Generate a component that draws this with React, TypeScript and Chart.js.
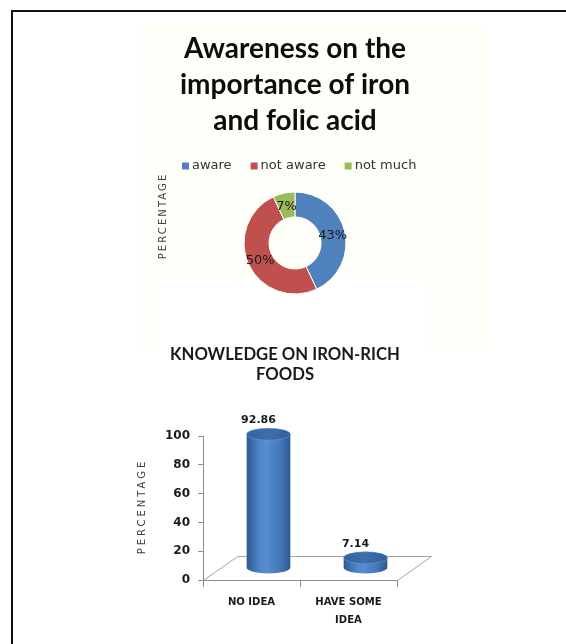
import React, { useEffect, useRef } from "react";
import { Chart, registerables } from "chart.js";

Chart.register(...registerables);

// ---- Awareness doughnut ----
const awarenessTitle = ["Awareness on the", "importance of iron", "and folic acid"];
const awarenessLabels = ["aware", "not aware", "not much"];
const awarenessValues = [43, 50, 7];
const awarenessColors = ["#4f81bd", "#c0504d", "#9bbb59"];

// ---- Iron-rich foods bars ----
const foodTitle = ["KNOWLEDGE ON IRON-RICH", "FOODS"];
const foodCategories = [["NO IDEA"], ["HAVE SOME", "IDEA"]];
const foodValues = [92.86, 7.14];
const yMin = 0;
const yMax = 100;
const yStep = 20;

const axisTitle = "PERCENTAGE";

// depth of the 3-D floor under the cylinders
const DEPTH_X = 34;
const DEPTH_Y = 24;

const TEXT = "#1a1a1a";
const AXIS = "#8c8c8c";

function drawVerticalTitle(ctx: CanvasRenderingContext2D, text: string, x: number, y: number, spacing: number) {
  ctx.save();
  ctx.translate(x, y);
  ctx.rotate(-Math.PI / 2);
  ctx.font = "10px 'DejaVu Sans'";
  (ctx as any).letterSpacing = spacing + "px";
  ctx.fillStyle = "#404040";
  ctx.textAlign = "center";
  ctx.textBaseline = "middle";
  ctx.fillText(text, spacing / 2, 0);
  ctx.restore();
}

const ringDecor = {
  id: "ringDecor",
  afterDatasetsDraw(chart: any) {
    const ctx: CanvasRenderingContext2D = chart.ctx;
    const meta = chart.getDatasetMeta(0);
    const arcs = meta.data;
    if (!arcs.length) return;
    const cx = arcs[0].x;
    const cy = arcs[0].y;
    const outer = arcs[0].outerRadius;

    // percentage labels on the ring
    ctx.save();
    ctx.font = "13px 'DejaVu Sans'";
    ctx.fillStyle = TEXT;
    ctx.textAlign = "center";
    ctx.textBaseline = "middle";
    arcs.forEach((arc: any, i: number) => {
      const p = arc.tooltipPosition();
      ctx.fillText(chart.data.datasets[0].data[i] + "%", p.x, p.y + 1);
    });
    ctx.restore();

    // key row
    ctx.save();
    ctx.font = "13px 'DejaVu Sans'";
    ctx.textBaseline = "middle";
    ctx.textAlign = "left";
    const rowY = cy - outer - 26;
    let x = cx - 113;
    const colors = chart.data.datasets[0].backgroundColor;
    chart.data.labels.forEach((label: string, i: number) => {
      ctx.fillStyle = colors[i];
      ctx.fillRect(x, rowY - 3.5, 7, 7);
      x += 10;
      ctx.fillStyle = "#333";
      ctx.fillText(label, x, rowY);
      x += ctx.measureText(label).width + 19;
    });
    ctx.restore();

    drawVerticalTitle(ctx, axisTitle, cx - 132, cy - 26, 2.1);
  },
};

const cylinders = {
  id: "cylinders",
  beforeDatasetsDraw(chart: any) {
    const ctx: CanvasRenderingContext2D = chart.ctx;
    const { left, right, bottom } = chart.chartArea;
    ctx.save();
    ctx.strokeStyle = "#a3a3a3";
    ctx.lineWidth = 1;
    ctx.beginPath();
    ctx.moveTo(left + 0.5, bottom + 0.5);
    ctx.lineTo(left + DEPTH_X + 0.5, bottom - DEPTH_Y + 0.5);
    ctx.lineTo(right + DEPTH_X + 0.5, bottom - DEPTH_Y + 0.5);
    ctx.lineTo(right + 0.5, bottom + 0.5);
    ctx.stroke();
    ctx.restore();
  },
  afterDatasetsDraw(chart: any) {
    const ctx: CanvasRenderingContext2D = chart.ctx;
    const meta = chart.getDatasetMeta(0);
    meta.data.forEach((bar: any, i: number) => {
      const { x, y, base, width } = bar.getProps(["x", "y", "base", "width"], true);
      const cx = x + DEPTH_X / 2;
      const rx = width / 2;
      const ry = 6;
      const top = y - DEPTH_Y / 2;
      const bot = base - DEPTH_Y / 2;

      ctx.save();
      const g = ctx.createLinearGradient(cx - rx, 0, cx + rx, 0);
      g.addColorStop(0, "#2c5990");
      g.addColorStop(0.3, "#4f86c9");
      g.addColorStop(0.45, "#568cd0");
      g.addColorStop(0.75, "#4479bc");
      g.addColorStop(1, "#2d5991");
      ctx.fillStyle = g;
      ctx.beginPath();
      ctx.moveTo(cx - rx, top);
      ctx.lineTo(cx - rx, bot);
      ctx.ellipse(cx, bot, rx, ry, 0, Math.PI, 0, true);
      ctx.lineTo(cx + rx, top);
      ctx.ellipse(cx, top, rx, ry, 0, 0, Math.PI, true);
      ctx.closePath();
      ctx.fill();

      const tg = ctx.createLinearGradient(cx - rx, 0, cx + rx, 0);
      tg.addColorStop(0, "#3563a0");
      tg.addColorStop(0.5, "#3f6eac");
      tg.addColorStop(1, "#33609b");
      ctx.fillStyle = tg;
      ctx.beginPath();
      ctx.ellipse(cx, top, rx, ry, 0, 0, Math.PI * 2);
      ctx.fill();
      ctx.strokeStyle = "rgba(120,160,215,0.6)";
      ctx.lineWidth = 0.8;
      ctx.stroke();

      const v = chart.data.datasets[0].data[i];
      ctx.font = "bold 11px 'DejaVu Sans'";
      ctx.fillStyle = TEXT;
      ctx.textAlign = "center";
      ctx.textBaseline = "middle";
      ctx.fillText(Number(v).toFixed(2), x + 7, top - ry - 8);
      ctx.restore();
    });

    const { left, top, bottom } = chart.chartArea;
    drawVerticalTitle(ctx, axisTitle, left - 61, (top + bottom) / 2, 3);

    // two-line heading above the plot
    ctx.save();
    ctx.font = "bold 16.7px Lato";
    ctx.fillStyle = TEXT;
    ctx.textAlign = "center";
    ctx.textBaseline = "middle";
    foodTitle.forEach((line, i) => {
      ctx.fillText(line, left + 82, 15 + i * 20);
    });
    ctx.restore();
  },
};

function AwarenessChart() {
  const ref = useRef<HTMLCanvasElement | null>(null);
  useEffect(() => {
    if (!ref.current) return;
    const chart = new Chart(ref.current, {
      type: "doughnut",
      data: {
        labels: awarenessLabels,
        datasets: [
          {
            data: awarenessValues,
            backgroundColor: awarenessColors,
            borderColor: "#ffffff",
            borderWidth: 1,
            radius: 51,
            cutout: "51%",
          } as any,
        ],
      },
      options: {
        animation: false,
        responsive: false,
        events: [],
        layout: { padding: { left: 0, right: 40, top: 0, bottom: 22 } },
        plugins: {
          legend: { display: false },
          tooltip: { enabled: false },
          title: {
            display: true,
            text: awarenessTitle,
            color: "#0d0d0d",
            font: { family: "Lato", size: 28, weight: "bold", lineHeight: "36px" },
            padding: { top: 8, bottom: 19 },
          },
        },
      },
      plugins: [ringDecor],
    });
    return () => chart.destroy();
  }, []);
  return (
    <canvas
      ref={ref}
      width={346}
      height={327}
      style={{ position: "absolute", left: 142, top: 23, width: 346, height: 327 }}
    />
  );
}

function FoodsChart() {
  const ref = useRef<HTMLCanvasElement | null>(null);
  useEffect(() => {
    if (!ref.current) return;
    const chart = new Chart(ref.current, {
      type: "bar",
      data: {
        labels: foodCategories,
        datasets: [
          {
            data: foodValues,
            backgroundColor: "rgba(0,0,0,0)",
            borderWidth: 0,
            barPercentage: 0.45,
            categoryPercentage: 1,
          },
        ],
      },
      options: {
        animation: false,
        responsive: false,
        events: [],
        layout: { padding: { left: 21, right: 53, top: 96, bottom: 0 } },
        plugins: {
          legend: { display: false },
          tooltip: { enabled: false },
        },
        scales: {
          x: {
            grid: { drawOnChartArea: false, tickLength: 7, color: AXIS, offset: true },
            border: { color: AXIS },
            ticks: {
              color: TEXT,
              padding: 6,
              maxRotation: 0,
              autoSkip: false,
              font: {
                family: "'DejaVu Sans Condensed', 'DejaVu Sans'",
                size: 11.2,
                weight: "bold",
                lineHeight: "18px",
              },
            },
            afterFit: (s: any) => {
              s.height = 60;
            },
          },
          y: {
            min: yMin,
            max: yMax,
            grid: { drawOnChartArea: false, tickLength: 5, color: AXIS },
            border: { color: AXIS },
            ticks: {
              stepSize: yStep,
              color: TEXT,
              padding: 8,
              font: { family: "'DejaVu Sans'", size: 12, weight: "bold" },
            },
            afterFit: (s: any) => {
              s.width = 72;
            },
          },
        },
      } as any,
      plugins: [cylinders],
    });
    return () => chart.destroy();
  }, []);
  return (
    <canvas
      ref={ref}
      width={340}
      height={300}
      style={{ position: "absolute", left: 110, top: 340, width: 340, height: 300 }}
    />
  );
}

export default function App() {
  return (
    <div
      style={{
        position: "fixed",
        left: 0,
        top: 0,
        width: 566,
        height: 644,
        background: "#ffffff",
        overflow: "hidden",
      }}
    >
      <div
        style={{
          position: "absolute",
          left: 11,
          top: 10,
          width: 620,
          height: 700,
          borderTop: "2px solid #111",
          borderLeft: "2px solid #111",
        }}
      />
      <div style={{ position: "absolute", left: 140, top: 23, width: 348, height: 327, background: "#fffffa" }} />
      <div style={{ position: "absolute", left: 157, top: 278, width: 273, height: 72, background: "#ffffff" }} />
      <AwarenessChart />
      <FoodsChart />
    </div>
  );
}
